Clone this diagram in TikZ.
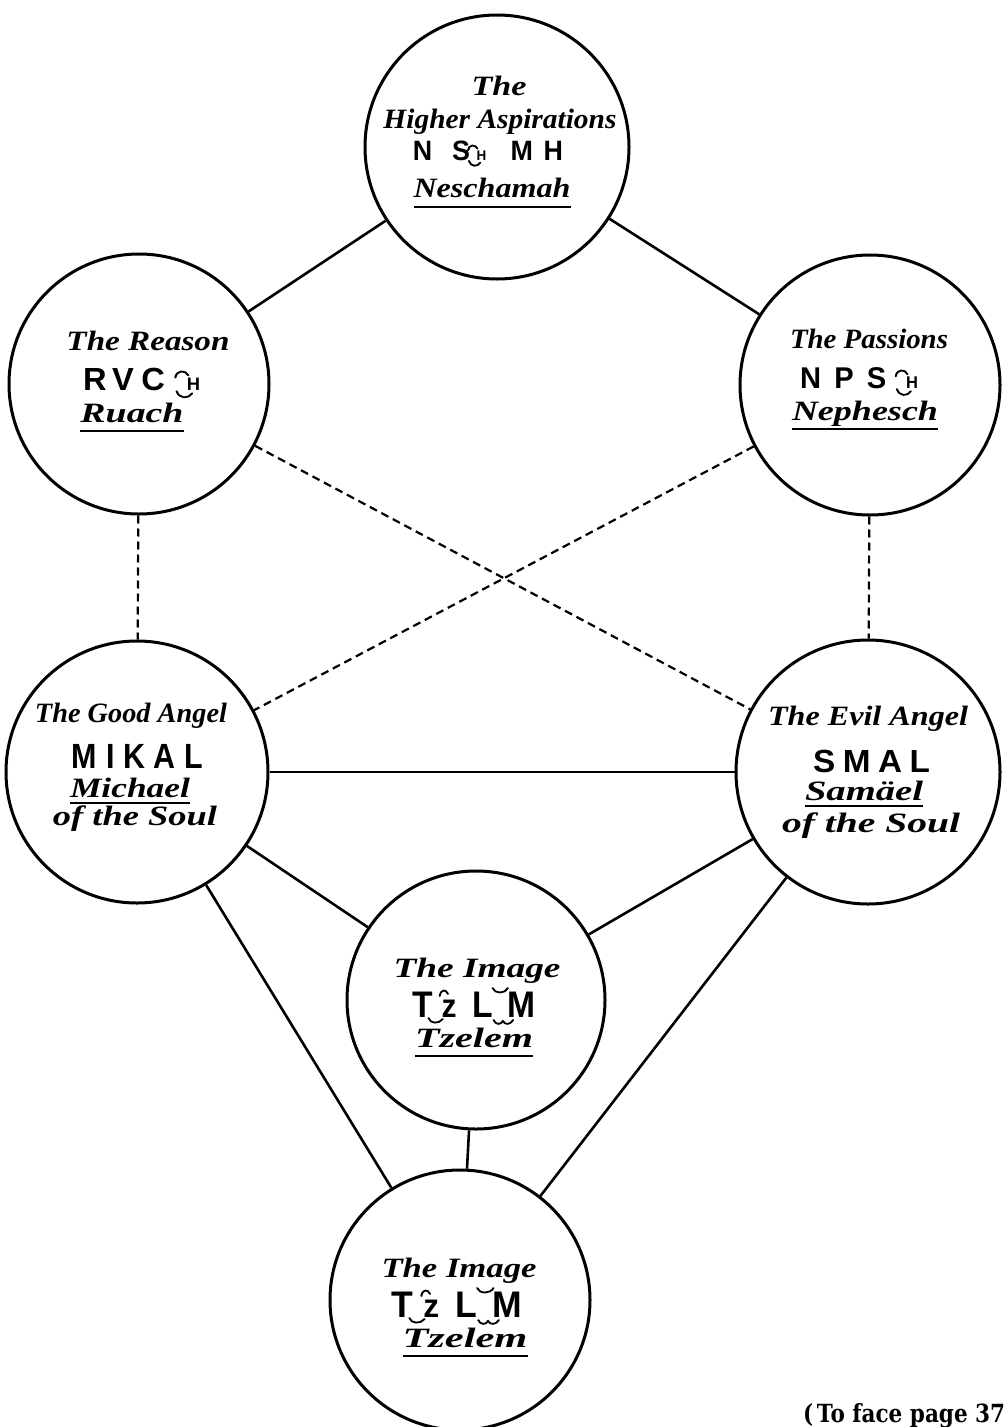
\documentclass[tikz,border=0pt]{standalone}
\usepackage{fontspec}
\usepackage{graphicx}
\newfontfamily\capsf{Liberation Sans Bold}[FakeStretch=0.88]
\newfontfamily\capfont{DejaVu Serif}
\newfontfamily\itf{Liberation Serif}
\newcommand\fw[2]{\resizebox{#1pt}{\height}{#2}}
\newcommand\undl[2][10pt]{\leavevmode\setbox0=\hbox{#2}\rlap{\rule[-#1]{\wd0}{2.4pt}}\box0}
% small H with arcs: #1 font size, #2 gap before H
\newcommand\arcH[2][16]{\tikz[baseline=0pt,x=1pt,y=1pt,line width=1.8pt,line cap=round]{%
  \path (0,0);
  \node[anchor=base west,inner sep=0pt,font=\capsf\fontsize{#1}{#1}\selectfont] (archnode) at (#2,0) {H};
  \begin{scope}[overlay,shift={(#2,0)},scale=#1/16]
  \draw (-8,11) .. controls (-7,18) and (0,18) .. (2,13);
  \draw (-7,-1) .. controls (-5,-8) and (2,-8) .. (5,-3);
  \end{scope}}}
\newcommand\Tz{T\tikz[baseline=0pt,x=1pt,y=1pt,line width=1.8pt,line cap=round]{%
  \path (0,0);
  \node[anchor=base west,inner sep=0pt,font=\capsf\fontsize{33}{33}\selectfont] (tznode) at (8,0) {z};
  \draw[overlay] (7,21) .. controls (8,28) and (13,28) .. (15,23);
  \draw[overlay] (-4,-1) .. controls (-2,-7) and (6,-7) .. (10,-2);}}
\newcommand\Lm{L\tikz[baseline=0pt,x=1pt,y=1pt,line width=1.8pt,line cap=round]{%
  \path (0,0) (14,0);
  \draw[overlay] (0,29) .. controls (2,23) and (12,23) .. (15,29);
  \draw[overlay] (1,-3) .. controls (3,-8) and (8,-8) .. (10,-4) .. controls (12,-8) and (17,-8) .. (20,-3);}M}
\tikzset{
  soul/.style={circle, draw, line width=3pt, minimum size=#1, inner sep=0pt},
  solidlink/.style={line width=2.6pt},
  dashlink/.style={line width=2.2pt, dash pattern=on 8pt off 5pt},
  itl/.style={anchor=base, inner sep=0pt, font=\itf\fontsize{#1}{#1}\selectfont\bfseries\itshape},
  itl/.default=28,
  capl/.style={anchor=base, inner sep=0pt, font=\capsf\fontsize{#1}{#1}\selectfont},
  capl/.default=30
}
\begin{document}
\begin{tikzpicture}[x=1pt,y=-1pt]
\useasboundingbox (0,0) rectangle (1005,1427);
% circles
\node[soul=264pt] (top) at (497,147) {};
\node[soul=260pt] (reason) at (139,384) {};
\node[soul=260pt] (passions) at (870,385) {};
\node[soul=262pt] (good) at (137,772) {};
\node[soul=264pt] (evil) at (868,772) {};
\node[soul=258pt] (image) at (476,1000) {};
\node[soul=260pt] (image2) at (460,1300) {};
% connectors
\draw[solidlink] (top) -- (reason);
\draw[solidlink] (top) -- (passions);
\draw[dashlink] (reason) -- (good);
\draw[dashlink] (passions) -- (evil);
\draw[dashlink] (reason) -- (evil);
\draw[dashlink] (passions) -- (good);
\draw[solidlink] (good) -- (evil);
\draw[solidlink] (good) -- (image);
\draw[solidlink] (evil) -- (image);
\draw[solidlink] (good) -- (image2);
\draw[solidlink] (evil) -- (image2);
\draw[solidlink] (image) -- (image2);
% top texts
\node[itl] (t1) at (499,95) {\fw{55}{The}};
\node[itl] (t2) at (500,128) {\fw{233}{Higher Aspirations}};
\node[capl=28] (t3) at (488,160) {\fw{150}{N\hspace{0.65em}S\arcH[14]{5}\hspace{0.8em}M\hspace{0.35em}H}};
\node[itl] (t4) at (492,197) {\fw{157}{\undl[11pt]{Neschamah}}};
% reason
\node[itl] (r1) at (148,350) {\fw{163}{The Reason}};
\node[capl=32] (r2) at (141.5,390) {\fw{117}{R\hspace{0.15em}V\hspace{0.2em}C\arcH[18]{18}}};
\node[itl] (r3) at (132,422) {\fw{103}{\undl{Ruach}}};
% passions
\node[itl] (p1) at (869,348) {\fw{158}{The Passions}};
\node[capl=30] (p2) at (859,388) {\fw{118}{N\hspace{0.4em}P\hspace{0.4em}S\arcH[17]{17}}};
\node[itl] (p3) at (865,420) {\fw{146}{\undl{Nephesch}}};
% good angel
\node[itl] (g1) at (131,722) {\fw{192}{The Good Angel}};
\node[capl=35] (g2) at (137.5,768) {\fw{131}{M\hspace{0.25em}I\hspace{0.25em}K\hspace{0.25em}A\hspace{0.25em}L}};
\node[itl] (g3) at (130,797) {\fw{120}{\undl[7pt]{Michael}}};
\node[itl] (g4) at (135,825) {\fw{164}{of the Soul}};
% evil angel
\node[itl] (e1) at (868,725) {\fw{200}{The Evil Angel}};
\node[capl=32] (e2) at (871.5,772) {\fw{117}{S\hspace{0.2em}M\hspace{0.2em}A\hspace{0.2em}L}};
\node[itl] (e3) at (864,800) {\fw{118}{\undl[7pt]{Samäel}}};
\node[itl] (e4) at (871,832) {\fw{178}{of the Soul}};
% image
\node[itl] (i1) at (477,977) {\fw{167}{The Image}};
\node[capl=37] (i2) at (473.5,1017) {\fw{123}{\Tz\hspace{0.4em}\Lm}};
\node[itl] (i3) at (474,1047) {\fw{118}{\undl{Tzelem}}};
% image 2
\node[itl] (j1) at (459,1277) {\fw{155}{The Image}};
\node[capl=37] (j2) at (457,1317) {\fw{130}{\Tz\hspace{0.4em}\Lm}};
\node[itl] (j3) at (465,1347) {\fw{125}{\undl{Tzelem}}};
% caption
\node[anchor=base west, inner sep=0pt, font=\capfont\bfseries\fontsize{25}{25}\selectfont] (cap) at (803,1422) {\fw{202}{(\,To face page 37}};
\end{tikzpicture}
\end{document}
